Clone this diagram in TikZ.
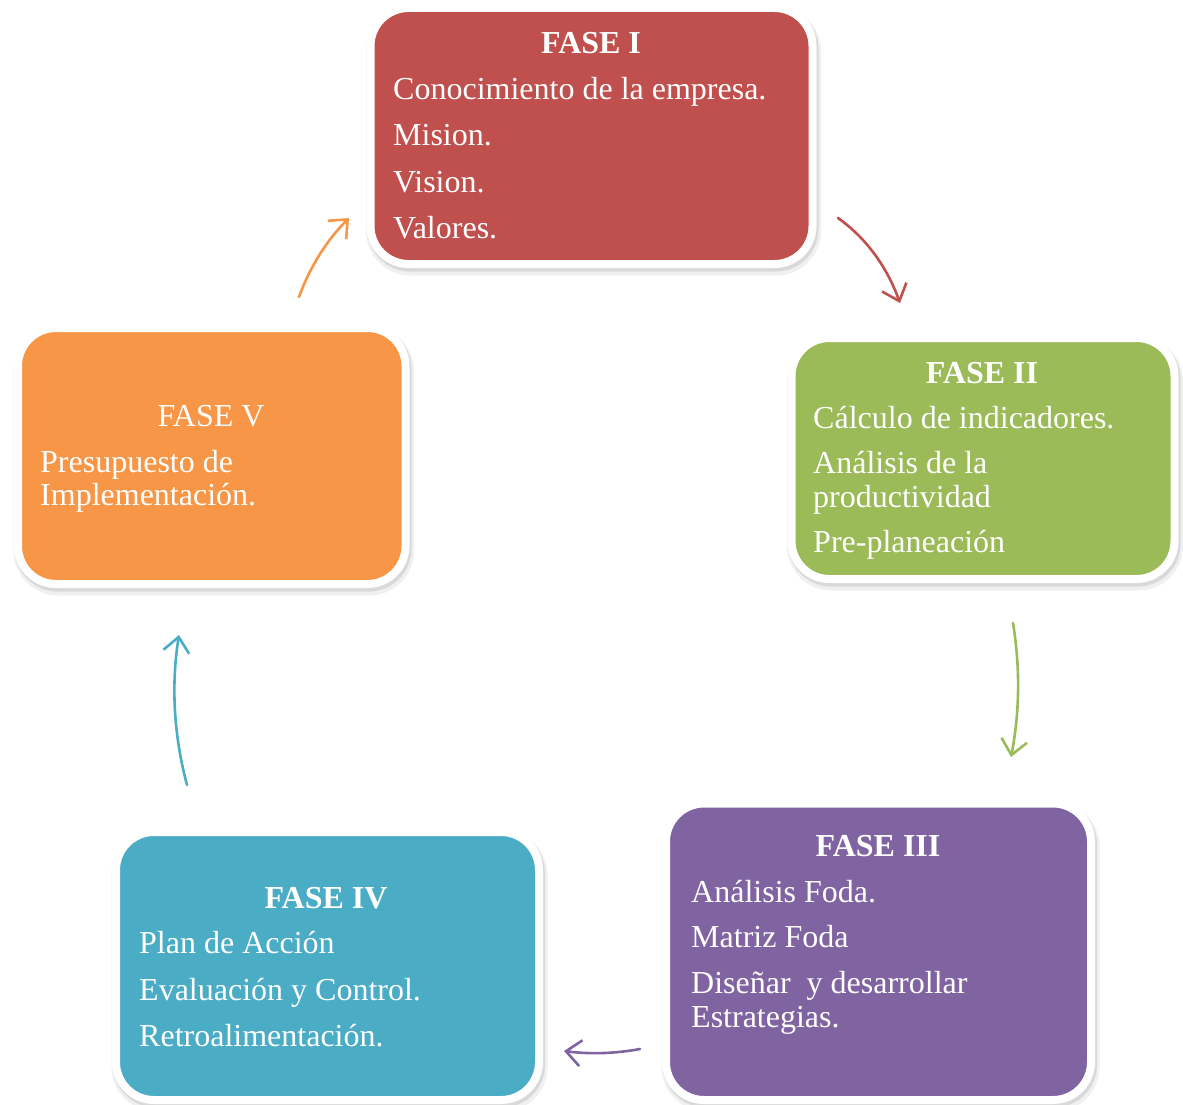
\documentclass[tikz,border=0pt]{standalone}
\usepackage{fontspec}
\setmainfont{Liberation Serif}
\usetikzlibrary{arrows.meta,shadows}
\definecolor{cRed}{HTML}{C0504D}
\definecolor{cGreen}{HTML}{9BBB59}
\definecolor{cPurple}{HTML}{8064A2}
\definecolor{cTeal}{HTML}{4BACC6}
\definecolor{cOrange}{HTML}{F79646}
\tikzset{
  pbox/.style={draw=white, line width=8pt, rounded corners=38pt, fill=#1, inner sep=0pt,
    general shadow={draw=black!6, fill=black!6, line width=13pt, shadow xshift=2pt, shadow yshift=-5pt},
    general shadow={draw=black!15, fill=black!15, line width=9pt, shadow xshift=1.5pt, shadow yshift=-3pt}},
  ttl/.style={text=white, anchor=base, inner sep=0pt, font=\fontsize{32}{34}\selectfont\bfseries},
  ttlr/.style={text=white, anchor=base, inner sep=0pt, font=\fontsize{32}{34}\selectfont},
  txt/.style={text=white, anchor=base west, inner sep=0pt, font=\fontsize{32}{34}\selectfont},
  flow/.style={line width=2.6pt, line cap=round, -{Straight Barb[length=15pt,width=26pt]}}
}
\begin{document}
\begin{tikzpicture}[x=1pt,y=-1pt]
\useasboundingbox (0,0) rectangle (1183,1105);
% boxes
\node[pbox=cRed, minimum width=442pt, minimum height=256pt] (b1) at (591.5,136) {};
\node[pbox=cGreen, minimum width=383pt, minimum height=241pt] (b2) at (983,458.5) {};
\node[pbox=cPurple, minimum width=425pt, minimum height=296.5pt] (b3) at (878.5,951.75) {};
\node[pbox=cTeal, minimum width=423pt, minimum height=268pt] (b4) at (327.5,966) {};
\node[pbox=cOrange, minimum width=387.5pt, minimum height=256pt] (b5) at (211.75,456) {};
% FASE I
\node[ttl] (t1) at (591,54) {FASE I};
\node[txt] (t1a) at (393,100) {Conocimiento de la empresa.};
\node[txt] (t1b) at (393,146) {Mision.};
\node[txt] (t1c) at (393,192) {Vision.};
\node[txt] (t1d) at (393,238) {Valores.};
% FASE II
\node[ttl] (t2) at (982,383) {FASE II};
\node[txt] (t2a) at (813,428) {Cálculo de indicadores.};
\node[txt] (t2b) at (813,473) {Análisis de la};
\node[txt] (t2c) at (813,507) {productividad};
\node[txt] (t2d) at (813,552) {Pre-planeación};
% FASE III
\node[ttl] (t3) at (878,856) {FASE III};
\node[txt] (t3a) at (691,902) {Análisis Foda.};
\node[txt] (t3b) at (691,947) {Matriz Foda};
\node[txt] (t3c) at (691,993) {Diseñar\ \ y desarrollar};
\node[txt] (t3d) at (691,1027) {Estrategias.};
% FASE IV
\node[ttl] (t4) at (326,908) {FASE IV};
\node[txt] (t4a) at (139,953) {Plan de Acción};
\node[txt] (t4b) at (139,1000) {Evaluación y Control.};
\node[txt] (t4c) at (139,1046) {Retroalimentación.};
% FASE V
\node[ttlr] (t5) at (211,426) {FASE V};
\node[txt] (t5a) at (40,472) {Presupuesto de};
\node[txt] (t5b) at (40,505) {Implementación.};
% arrows
\coordinate (a1s) at (838,218); \coordinate (a1e) at (900,303);
\coordinate (a2s) at (1013,623); \coordinate (a2e) at (1011,757);
\coordinate (a3s) at (640,1049); \coordinate (a3e) at (564,1051);
\coordinate (a4s) at (187,785); \coordinate (a4e) at (179,635);
\coordinate (a5s) at (299,297); \coordinate (a5e) at (349,218);
\draw[flow, cRed] (a1s) .. controls (866,238) and (886.7,266.3) .. (a1e);
\draw[flow, cGreen] (a2s) .. controls (1020.3,667.7) and (1019.7,712.3) .. (a2e);
\draw[flow, cPurple] (a3s) .. controls (614.7,1053.7) and (589.3,1054.3) .. (a3e);
\draw[flow, cTeal] (a4s) .. controls (173.7,735) and (171,685) .. (a4e);
\draw[flow, cOrange] (a5s) .. controls (310.3,265.7) and (327.7,239.3) .. (a5e);
\end{tikzpicture}
\end{document}
